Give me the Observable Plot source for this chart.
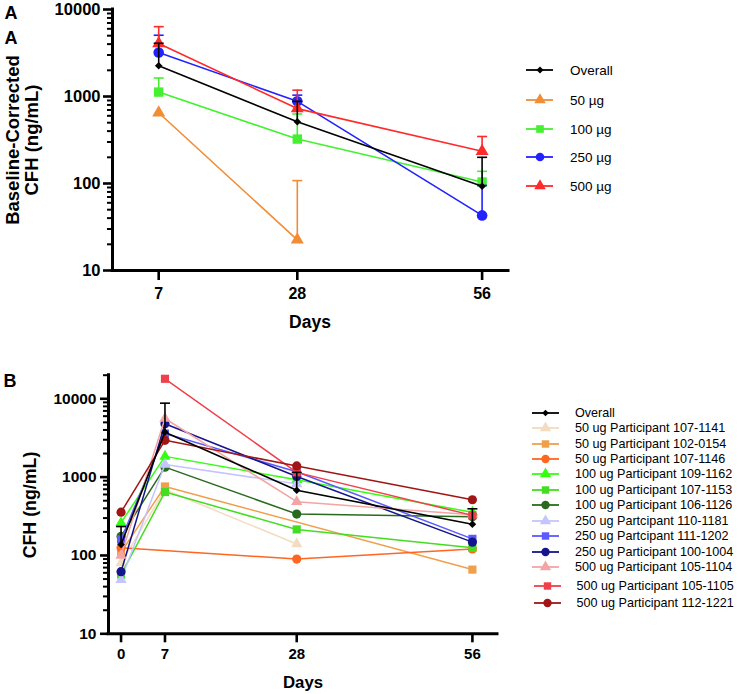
<!DOCTYPE html>
<html><head><meta charset="utf-8">
<script src="https://cdn.jsdelivr.net/npm/d3@7"></script>
<script src="https://cdn.jsdelivr.net/npm/@observablehq/plot@0.6"></script>
<style>
body{margin:0;background:#fff;font-family:"Liberation Sans",Arial,sans-serif;}
#wrap{position:relative;width:749px;height:694px;overflow:hidden;background:#fff}
.panel{position:absolute;left:0}
.c{position:absolute;transform:translate(-50%,-50%);white-space:nowrap;font-weight:bold;color:#000}
.rot{transform:translate(-50%,-50%) rotate(-90deg)}
.leg{position:absolute;white-space:nowrap;color:#000;transform:translateY(-50%)}
</style></head><body><div id="wrap">
<div id="pa" class="panel" style="top:0"></div>
<div id="pb" class="panel" style="top:370px"></div>
</div>
<script>
// ---------- Panel A data ----------
const daysA = [7, 28, 56];
const namesA = ["Overall", "50 µg", "100 µg", "250 µg", "500 µg"];
const overallA = [2260, 512, 93];
const overallA_up = [4090, 880, 200];
const ug50A = [650, 22.5, null];
const ug50A_up = [null, 108, null];
const ug100A = [1124, 324, 104];
const ug100A_up = [1630, 630, 138];
const ug250A = [3210, 880, 43];
const ug250A_up = [5060, 1037, 95];
const ug500A = [4060, 726, 235];
const ug500A_up = [6350, 1183, 347];
const colorsA = ["#000000", "#f28c35", "#44f030", "#2222ff", "#ff2a2a"];
const symbolsA = ["diamond2", "triangle", "square", "circle", "triangle"];
const ticksXA = [7, 28, 56];
const ticksYA = [10, 100, 1000, 10000];

// ---------- Panel B data ----------
const daysB = [0, 7, 28, 56];
const namesB = ["Overall", "50 ug Participant 107-1141", "50 ug Participant 102-0154", "50 ug Participant 107-1146",
  "100 ug Participant 109-1162", "100 ug Participant 107-1153", "100 ug Participant 106-1126",
  "250 ug Partcipant 110-1181", "250 ug Partcipant 111-1202", "250 ug Participant 100-1004",
  "500 ug Participant 105-1104", "500 ug Participant 105-1105", "500 ug Participant 112-1221"];
const overallB = [138, 3750, 680, 250];
const overallB_up = [234, 8790, 1150, 394];
const p107_1141 = [80, 690, 140, null];
const p102_0154 = [110, 760, null, 66];
const p107_1146 = [125, null, 90, 121];
const p109_1162 = [262, 1840, 925, 355];
const p107_1153 = [57, 645, 215, 125];
const p106_1126 = [175, 1340, 338, 312];
const p110_1181 = [49, 1450, 820, null];
const p111_1202 = [160, 3600, 1170, 163];
const p100_1004 = [62, 4800, 1020, 148];
const p105_1104 = [100, 5600, 485, 330];
const p105_1105 = [null, 18000, 1150, 325];
const p112_1221 = [357, 2950, 1390, 514];
const valuesB = [overallB, p107_1141, p102_0154, p107_1146, p109_1162, p107_1153, p106_1126,
  p110_1181, p111_1202, p100_1004, p105_1104, p105_1105, p112_1221];
const colorsB = ["#000000", "#f3dcbf", "#f0a04c", "#ff6622", "#33ff11", "#44dd22", "#2a6a1e",
  "#c4c4ff", "#5a5aff", "#14148e", "#f4a4a4", "#f0404c", "#a01616"];
const symbolsB = ["diamond2", "triangle", "square", "circle", "triangle", "square", "circle",
  "triangle", "square", "circle", "triangle", "square", "circle"];
const ticksXB = [0, 7, 28, 56];
const ticksYB = [10, 100, 1000, 10000];

const FONT = "Liberation Sans, Arial, sans-serif";
const W = 749;

const capSymbol = {draw(ctx, size) { const w = Math.sqrt(size / Math.PI); ctx.moveTo(-w, 0); ctx.lineTo(w, 0); }};
const symR = {diamond2: 3.4, triangle: 4.2, square: 4.6, circle: 4.6};

function rows(days, vals, ups) {
  return days.map((d, i) => ({day: d, v: vals[i], up: ups ? ups[i] : null})).filter(r => r.v != null);
}
function seriesMarks(data, color, symbol, scaleR, sw) {
  const err = data.filter(r => r.up != null);
  return [
    Plot.ruleX(err, {x: "day", y1: "v", y2: "up", stroke: color, strokeWidth: sw}),
    Plot.dot(err, {x: "day", y: "up", r: 5, symbol: capSymbol, stroke: color, strokeWidth: sw, fill: "none"}),
    Plot.line(data, {x: "day", y: "v", stroke: color, strokeWidth: sw}),
    Plot.dot(data, {x: "day", y: "v", symbol, r: symR[symbol] * scaleR, fill: color, stroke: "none"})
  ];
}
function minorTicks(lo, hi) {
  const out = [];
  for (let dec = lo; dec < hi; dec *= 10) for (let k = 2; k <= 9; k++) if (dec * k <= hi) out.push(dec * k);
  return out;
}

// ---------- Panel A plot ----------
const valuesA = [overallA, ug50A, ug100A, ug250A, ug500A];
const upsA = [overallA_up, ug50A_up, ug100A_up, ug250A_up, ug500A_up];
const marksA = [];
[1, 2, 3, 4, 0].forEach(i => marksA.push(...seriesMarks(rows(daysA, valuesA[i], upsA[i]), colorsA[i], symbolsA[i], i === 0 ? 1 : 1.15, 1.6)));
const plotA = Plot.plot({
  width: W, height: 335,
  marginLeft: 112, marginRight: W - 508, marginTop: 9, marginBottom: 65,
  x: {domain: [0, 60]},
  y: {type: "log", domain: [10, 10000]},
  style: {fontFamily: FONT, overflow: "visible", background: "white"},
  marks: [
    Plot.axisX(ticksXA, {tickSize: 10, tickPadding: 7, strokeWidth: 2.6, fontSize: 16, fontWeight: "bold", label: null}),
    Plot.axisY(ticksYA, {tickSize: 9, tickPadding: 3, strokeWidth: 2.6, fontSize: 16.5, fontWeight: "bold", label: null, tickFormat: d => String(d)}),
    Plot.axisY(minorTicks(10, 10000), {tickSize: 5, strokeWidth: 2, tickFormat: () => "", label: null}),
    ...marksA,
    Plot.ruleX([0], {strokeWidth: 3, strokeLinecap: "square"}),
    Plot.ruleY([10], {strokeWidth: 3, strokeLinecap: "square"})
  ]
});
document.getElementById("pa").append(plotA);

// ---------- Panel B plot ----------
const marksB = [];
for (let i = 1; i < valuesB.length; i++) marksB.push(...seriesMarks(rows(daysB, valuesB[i]), colorsB[i], symbolsB[i], 1, 1.5));
marksB.push(...seriesMarks(rows(daysB, overallB, overallB_up), colorsB[0], symbolsB[0], 1, 1.6));
const plotB = Plot.plot({
  width: W, height: 324,
  marginLeft: 108, marginRight: W - 497, marginTop: 4.7, marginBottom: 60.7,
  x: {domain: [-2, 60]},
  y: {type: "log", domain: [10, 20000]},
  style: {fontFamily: FONT, overflow: "visible", background: "white"},
  marks: [
    Plot.axisX(ticksXB, {tickSize: 9, tickPadding: 6, strokeWidth: 2.6, fontSize: 15, fontWeight: "bold", label: null}),
    Plot.axisY(ticksYB, {tickSize: 8, tickPadding: 4, strokeWidth: 2.6, fontSize: 15.5, fontWeight: "bold", label: null, tickFormat: d => String(d)}),
    Plot.axisY(minorTicks(10, 20000), {tickSize: 5, strokeWidth: 2, tickFormat: () => "", label: null}),
    ...marksB,
    Plot.ruleX([-2], {strokeWidth: 3, strokeLinecap: "square"}),
    Plot.ruleY([10], {strokeWidth: 3, strokeLinecap: "square"})
  ]
});
document.getElementById("pb").append(plotB);

// ---------- Labels ----------
const wrap = document.getElementById("wrap");
function label(txt, x, y, size, cls) {
  const d = document.createElement("div");
  d.className = "c" + (cls ? " " + cls : "");
  d.style.left = x + "px"; d.style.top = y + "px"; d.style.fontSize = size + "px";
  d.textContent = txt; wrap.append(d);
}
label("A", 11, 13, 18);
label("A", 11, 38, 18);
label("Baseline-Corrected", 13, 140, 18.5, "rot");
label("CFH (ng/mL)", 32, 140, 18.5, "rot");
label("Days", 310, 322, 17.5);
label("B", 10, 381, 18);
label("CFH (ng/mL)", 30, 505, 17.8, "rot");
label("Days", 303, 683, 16.8);

// ---------- Legends ----------
function legendItem(name, color, symbol, y, x0, x1, mx, tx, size, r) {
  const s = document.createElementNS("http://www.w3.org/2000/svg", "svg");
  s.setAttribute("width", 40); s.setAttribute("height", 16);
  s.style.position = "absolute"; s.style.left = (x0 - 2) + "px"; s.style.top = (y - 8) + "px"; s.style.overflow = "visible";
  const ln = document.createElementNS("http://www.w3.org/2000/svg", "line");
  ln.setAttribute("x1", 2); ln.setAttribute("x2", x1 - x0 + 2); ln.setAttribute("y1", 8); ln.setAttribute("y2", 8);
  ln.setAttribute("stroke", color); ln.setAttribute("stroke-width", 1.8);
  s.append(ln);
  const types = {circle: d3.symbolCircle, square: d3.symbolSquare, triangle: d3.symbolTriangle, diamond2: d3.symbolDiamond2};
  const p = document.createElementNS("http://www.w3.org/2000/svg", "path");
  p.setAttribute("d", d3.symbol(types[symbol], Math.PI * r * r)());
  p.setAttribute("transform", `translate(${mx - x0 + 2},8)`);
  p.setAttribute("fill", color);
  s.append(p);
  wrap.append(s);
  const t = document.createElement("div");
  t.className = "leg"; t.style.left = tx + "px"; t.style.top = y + "px"; t.style.fontSize = size + "px";
  t.textContent = name; wrap.append(t);
}
const legYA = [70, 100, 128.5, 157, 186];
namesA.forEach((n, i) => legendItem(n, colorsA[i], symbolsA[i], legYA[i], 526, 553, 540, 570, 13.5, i === 0 ? 3.2 : 4.3));
const legYB = [412.7, 428.3, 443.6, 459, 474.3, 489.6, 505.2, 520.8, 536.2, 551.7, 567.4, 586.3, 603.2];
namesB.forEach((n, i) => {
  const sh = i >= 11 ? 1.5 : 0;
  legendItem(n, colorsB[i], symbolsB[i], legYB[i], 532 + sh, 559 + sh, 545.5 + sh, 575 + sh, 12.6, i === 0 ? 3 : 4.2);
});
</script></body></html>
